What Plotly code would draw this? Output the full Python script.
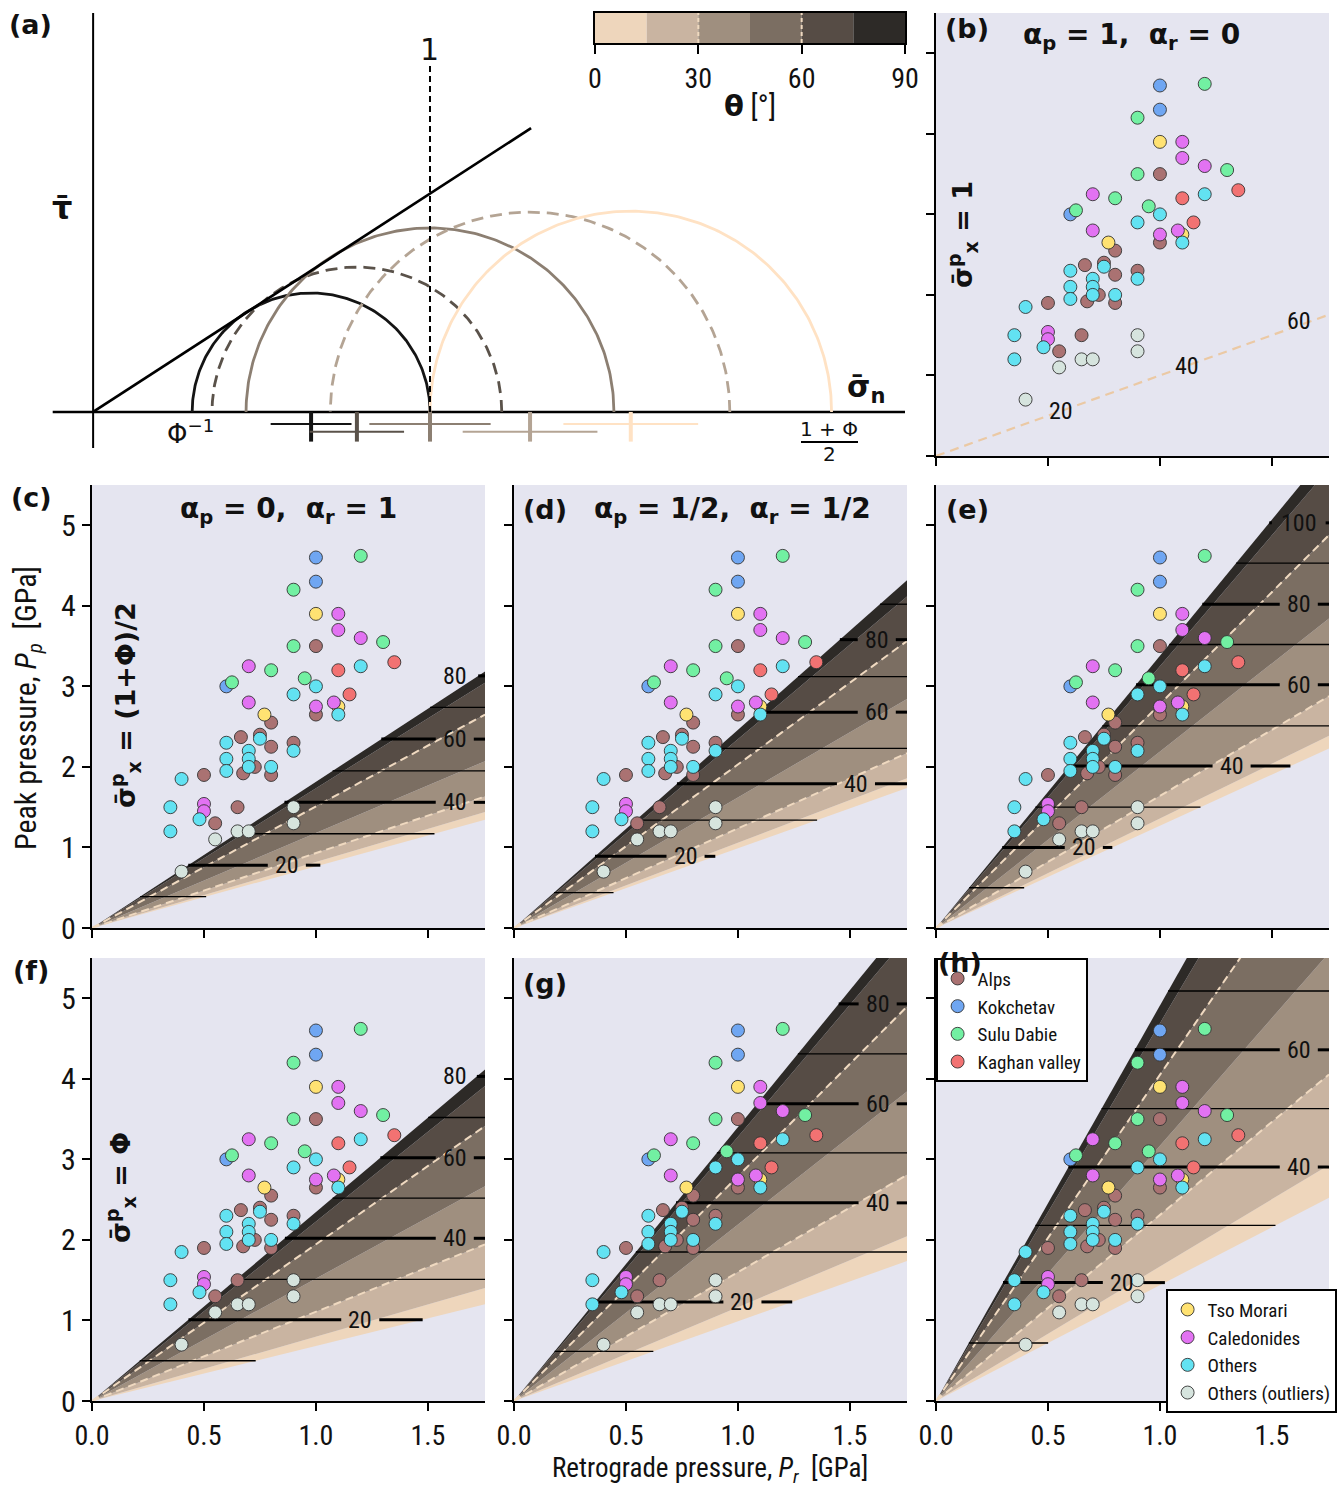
import numpy as np
import plotly.graph_objects as go

W, H = 1341, 1489
FONT = "Liberation Sans Narrow, Roboto Condensed, Roboto, sans-serif"
MATH = "DejaVu Sans, sans-serif"
BG = "#E5E5F0"

# ---------------- data (GPa) ----------------
group_names = ["Alps", "Kokchetav", "Sulu Dabie", "Kaghan valley",
               "Tso Morari", "Caledonides", "Others", "Others (outliers)"]
group_colors = ["#AA7272", "#6FA6F2", "#72F0A2", "#F27272",
                "#FFE272", "#E272F2", "#62E2F2", "#D6E4DE"]

alps_pr = [1.0, 1.0, 0.80, 0.665, 0.75, 0.80, 0.90, 0.727, 0.675, 0.80, 0.50, 0.65, 0.55]
alps_pp = [3.5, 2.65, 2.55, 2.37, 2.4, 2.25, 2.3, 2.0, 1.92, 1.9, 1.9, 1.5, 1.3]
kok_pr = [1.0, 1.0, 0.60]
kok_pp = [4.6, 4.3, 3.0]
sulu_pr = [1.2, 0.9, 1.3, 0.9, 0.8, 0.625, 0.95]
sulu_pp = [4.62, 4.2, 3.55, 3.5, 3.2, 3.05, 3.1]
kaghan_pr = [1.35, 1.1, 1.15]
kaghan_pp = [3.3, 3.2, 2.9]
tso_pr = [1.0, 1.1, 0.77]
tso_pp = [3.9, 2.75, 2.65]
cal_pr = [1.1, 1.1, 1.2, 0.7, 0.7, 1.0, 1.08, 0.5, 0.5]
cal_pp = [3.9, 3.7, 3.6, 3.25, 2.8, 2.75, 2.8, 1.54, 1.45]
oth_pr = [1.2, 1.0, 0.9, 1.1, 0.75, 0.6, 0.9, 0.7, 0.6, 0.7, 0.6, 0.7, 0.8, 0.4, 0.35, 0.48, 0.35]
oth_pp = [3.25, 3.0, 2.9, 2.65, 2.35, 2.3, 2.2, 2.2, 2.1, 2.1, 1.95, 2.0, 2.0, 1.85, 1.5, 1.35, 1.2]
out_pr = [0.65, 0.7, 0.55, 0.9, 0.9, 0.4]
out_pp = [1.2, 1.2, 1.1, 1.5, 1.3, 0.7]

group_pr = [alps_pr, kok_pr, sulu_pr, kaghan_pr, tso_pr, cal_pr, oth_pr, out_pr]
group_pp = [alps_pp, kok_pp, sulu_pp, kaghan_pp, tso_pp, cal_pp, oth_pp, out_pp]

# wedge boundary slopes Pp/Pr at theta = 0,15,30,45,60,75,90 deg
theta_ticks = [0, 30, 60, 90]
slopes_c = [0.765, 0.82, 0.93, 1.18, 1.51, 1.735, 1.815]
slopes_d = [0.99, 1.06, 1.237, 1.62, 2.03, 2.345, 2.46]
slopes_e = [1.27, 1.36, 1.64, 2.19, 2.78, 3.25, 3.38]
slopes_f = [0.684, 0.80, 1.108, 1.52, 1.945, 2.228, 2.345]
slopes_g = [0.99, 1.165, 1.60, 2.19, 2.79, 3.28, 3.40]
slopes_h = [1.438, 1.67, 2.31, 3.17, 4.05, 4.69, 4.91]
slope_b = 1.0

# depth contour levels (Pp, GPa) for 10, 20, 30 ... km
levels_b = [0.28, 0.56, 0.84, 1.12, 1.40, 1.68]
levels_c = [0.39, 0.78, 1.17, 1.56, 1.95, 2.345, 2.74, 3.13]
levels_d = [0.44, 0.89, 1.34, 1.79, 2.23, 2.68, 3.12, 3.58, 4.02]
levels_e = [0.50, 1.00, 1.50, 2.01, 2.51, 3.02, 3.52, 4.02, 4.53, 5.03]
levels_f = [0.50, 1.01, 1.51, 2.02, 2.52, 3.02, 3.52, 4.03]
levels_g = [0.616, 1.23, 1.85, 2.46, 3.08, 3.69, 4.31, 4.93]
levels_h = [0.72, 1.47, 2.18, 2.905, 3.63, 4.36, 5.09]
# label x positions for the labelled (20, 40, ...) levels
lab_b = [0.556, 1.12, 1.62]
lab_c = [0.87, 1.62, 1.62, 1.62]
lab_d = [0.766, 1.527, 1.62, 1.62]
lab_e = [0.66, 1.32, 1.62, 1.62, 1.62]
lab_f = [1.198, 1.62, 1.62, 1.62]
lab_g = [1.02, 1.624, 1.624, 1.624]
lab_h = [0.83, 1.62, 1.62]

# Mohr circles (panel a), normalised stress units
circ_center = [0.647, 0.783, 1.0, 1.297, 1.596]
circ_radius = [0.353, 0.43, 0.546, 0.593, 0.596]
circ_bar = [0.12, 0.14, 0.18, 0.20, 0.20]
circ_colors = ["#141414", "#5A524A", "#8C7F72", "#B4A494", "#FFE2C4"]
circ_dash = ["solid", "12px,7px", "solid", "12px,7px", "solid"]
friction_slope = 0.648
friction_end = 1.30

BAND_COLORS = ["#EED6BC", "#C9B4A1", "#9F8F7F", "#7B6E62", "#564C45", "#2D2A27"]
DASH_COLOR = "#EFD9C0"

XMAX, YMAX = 1.755, 5.5


def px(x):
    return x / W


def py(y):
    return 1 - y / H


def note(x, y, text, size, family=FONT, angle=0):
    return dict(x=px(x), y=py(y), xref="paper", yref="paper", text=text,
                xanchor="center", yanchor="middle", textangle=angle,
                showarrow=False, font=dict(size=size, family=family))


fig = go.Figure()
layout = dict(width=W, height=H, margin=dict(l=0, r=0, t=0, b=0, autoexpand=False),
              paper_bgcolor="white", plot_bgcolor="rgba(0,0,0,0)",
              font=dict(family=FONT, size=24, color="#111"),
              showlegend=True, shapes=[], annotations=[])
ann = layout["annotations"]
shp = layout["shapes"]

# ---------------- panel (a) ----------------
layout["xaxis"] = dict(domain=[px(50), px(905)], range=[-0.128, 2.41], visible=False, fixedrange=True)
layout["yaxis"] = dict(domain=[py(448), py(13)], range=[-0.107, 1.184], visible=False, fixedrange=True)
lk = dict(xaxis="x", yaxis="y", mode="lines", showlegend=False, hoverinfo="skip")
fig.add_trace(go.Scatter(x=[0, 0], y=[-0.107, 1.184], line=dict(color="black", width=2), **lk))
fig.add_trace(go.Scatter(x=[-0.12, 2.41], y=[0, 0], line=dict(color="black", width=2.5), **lk))
t = np.linspace(0, np.pi, 200)
for c, r, col, d in zip(circ_center, circ_radius, circ_colors, circ_dash):
    fig.add_trace(go.Scatter(x=c + r * np.cos(t), y=r * np.sin(t),
                             line=dict(color=col, width=2.8, dash=d), **lk))
fig.add_trace(go.Scatter(x=[0, friction_end], y=[0, friction_slope * friction_end],
                         line=dict(color="black", width=2.7), **lk))
fig.add_trace(go.Scatter(x=[1, 1], y=[0, 1.03], line=dict(color="black", width=2, dash="6px,4px"), **lk))
for i, (c, b, col) in enumerate(zip(circ_center, circ_bar, circ_colors)):
    yb = -0.036 if i % 2 == 0 else -0.059
    fig.add_trace(go.Scatter(x=[c - b, c + b], y=[yb, yb], line=dict(color=col, width=2), **lk))
    fig.add_trace(go.Scatter(x=[c, c], y=[0.0, -0.088], line=dict(color=col, width=4), **lk))

ann.append(note(430, 50, "1", 30, MATH))
ann.append(note(190, 432, "Φ<sup>−1</sup>", 26, MATH))
ann.append(note(829, 429, "1 + Φ", 20, MATH))
ann.append(note(829, 454, "2", 20, MATH))
shp.append(dict(type="line", xref="paper", yref="paper", x0=px(801), x1=px(858),
                y0=py(442), y1=py(442), line=dict(color="black", width=2)))
ann.append(note(866, 388, "<b>σ̄<sub>n</sub></b>", 30, MATH))
ann.append(note(62, 208, "<b>τ̄</b>", 32, MATH))

# ---------------- colorbar ----------------
layout["xaxis2"] = dict(domain=[px(595), px(905)], range=[0, 90], tickvals=theta_ticks,
                        ticks="outside", ticklen=9, tickwidth=2, tickcolor="black",
                        showline=True, linecolor="black", linewidth=2, mirror=True,
                        showgrid=False, zeroline=False, tickfont=dict(size=28), anchor="y2",
                        fixedrange=True)
layout["yaxis2"] = dict(domain=[py(43), py(13)], range=[0, 1], visible=True, showticklabels=False,
                        ticks="", showline=True, linecolor="black", linewidth=2, mirror=True,
                        showgrid=False, zeroline=False, anchor="x2", fixedrange=True)
edges = [0, 15, 30, 45, 60, 75, 90]
for i in range(6):
    fig.add_trace(go.Scatter(x=[edges[i], edges[i + 1], edges[i + 1], edges[i], edges[i]],
                             y=[0, 0, 1, 1, 0], fill="toself", fillcolor=BAND_COLORS[i],
                             line=dict(width=0), mode="lines", xaxis="x2", yaxis="y2",
                             showlegend=False, hoverinfo="skip"))
for v in [30, 60]:
    fig.add_trace(go.Scatter(x=[v, v], y=[0, 1], mode="lines", xaxis="x2", yaxis="y2",
                             line=dict(color=DASH_COLOR, width=2, dash="4px,3px"),
                             showlegend=False, hoverinfo="skip"))
ann.append(note(750, 106, "<b><span style='font-family:DejaVu Sans'>θ</span></b> [°]", 29))

# ---------------- scatter panels ----------------
panels = [
    # label, axis index, left px, top px, x ticklabels, y ticklabels
    ("b", 3, 936, 13, False, False),
    ("c", 4, 92, 485, False, True),
    ("d", 5, 514, 485, False, False),
    ("e", 6, 936, 485, False, False),
    ("f", 7, 92, 958, True, True),
    ("g", 8, 514, 958, True, False),
    ("h", 9, 936, 958, True, False),
]
wedges = {"c": (slopes_c, levels_c, lab_c), "d": (slopes_d, levels_d, lab_d),
          "e": (slopes_e, levels_e, lab_e), "f": (slopes_f, levels_f, lab_f),
          "g": (slopes_g, levels_g, lab_g), "h": (slopes_h, levels_h, lab_h)}
PXW, PXH = 393, 443

for name, k, left, top, xl, yl in panels:
    xa, ya = "x%d" % k, "y%d" % k
    layout["xaxis%d" % k] = dict(domain=[px(left), px(left + PXW)], range=[0, XMAX],
                                 tickvals=[0, 0.5, 1.0, 1.5], tickformat=".1f",
                                 showticklabels=xl, ticks="outside", ticklen=8, tickwidth=1.6,
                                 tickcolor="black", showline=True, linecolor="black", linewidth=2.2,
                                 showgrid=False, zeroline=False, anchor=ya,
                                 tickfont=dict(size=28), fixedrange=True)
    layout["yaxis%d" % k] = dict(domain=[py(top + PXH), py(top)], range=[0, YMAX],
                                 tickvals=[0, 1, 2, 3, 4, 5], showticklabels=yl,
                                 ticks="outside", ticklen=8, tickwidth=1.6, tickcolor="black",
                                 showline=True, linecolor="black", linewidth=2.2,
                                 showgrid=False, zeroline=False, anchor=xa,
                                 tickfont=dict(size=30), fixedrange=True)
    shp.append(dict(type="rect", xref=xa + " domain", yref=ya + " domain", x0=0, x1=1, y0=0, y1=1,
                    fillcolor=BG, line=dict(width=0), layer="below"))
    lk = dict(xaxis=xa, yaxis=ya, showlegend=False, hoverinfo="skip")

    if name == "b":
        fig.add_trace(go.Scatter(x=[0, XMAX], y=[0, slope_b * XMAX], mode="lines",
                                 line=dict(color="#EBC9A4", width=2.2, dash="9px,6px"), **lk))
        for j, lx in enumerate(lab_b):
            lev = levels_b[2 * j + 1]
            ann.append(dict(x=lx, y=lev, xref=xa, yref=ya, text=str(20 * (j + 1)),
                            xanchor="center", yanchor="middle",
                            showarrow=False, font=dict(size=24)))
    else:
        sl, levs, labs = wedges[name]
        for i in range(6):
            fig.add_trace(go.Scatter(x=[0, XMAX, XMAX, 0], y=[0, sl[i] * XMAX, sl[i + 1] * XMAX, 0],
                                     fill="toself", fillcolor=BAND_COLORS[i], mode="lines",
                                     line=dict(width=0), **lk))
        for s in [sl[2], sl[4]]:
            fig.add_trace(go.Scatter(x=[0, XMAX], y=[0, s * XMAX], mode="lines",
                                     line=dict(color=DASH_COLOR, width=2, dash="8px,5px"), **lk))
        for j, lev in enumerate(levs):
            x0 = lev / sl[6]
            x1 = min(lev / sl[0], XMAX)
            if x0 >= XMAX:
                continue
            labelled = (j % 2 == 1)
            if not labelled:
                fig.add_trace(go.Scatter(x=[x0, x1], y=[lev, lev], mode="lines",
                                         line=dict(color="black", width=1.3), **lk))
                continue
            val = 10 * (j + 1)
            lx = labs[j // 2]
            g = 0.12 if val >= 100 else 0.085
            segs = []
            if x0 < lx - g:
                segs.append((x0, min(lx - g, x1)))
            if x1 > lx + g:
                segs.append((max(lx + g, x0), x1))
            for a, b in segs:
                fig.add_trace(go.Scatter(x=[a, b], y=[lev, lev], mode="lines",
                                         line=dict(color="black", width=3), **lk))
            ann.append(dict(x=lx, y=lev, xref=xa, yref=ya, text=str(val),
                            xanchor="center", yanchor="middle",
                            showarrow=False, font=dict(size=24)))

    for gi, (gname, gcol) in enumerate(zip(group_names, group_colors)):
        show = (name == "h")
        fig.add_trace(go.Scatter(x=group_pr[gi], y=group_pp[gi], mode="markers", name=gname,
                                 marker=dict(size=13, color=gcol, line=dict(color="#333333", width=0.9)),
                                 xaxis=xa, yaxis=ya, showlegend=show,
                                 legend=("legend" if gi < 4 else "legend2"),
                                 hoverinfo="skip"))

layout["legend"] = dict(x=px(936), y=py(958), xanchor="left", yanchor="top",
                        bgcolor="white", bordercolor="black", borderwidth=1.6,
                        font=dict(size=19, family=FONT), tracegroupgap=0, itemwidth=30)
layout["legend2"] = dict(x=px(1166), y=py(1289), xanchor="left", yanchor="top",
                         bgcolor="white", bordercolor="black", borderwidth=1.6,
                         font=dict(size=19, family=FONT), tracegroupgap=0, itemwidth=30)

# ---------------- texts ----------------
letters = [("(a)", 30, 25), ("(b)", 967, 28), ("(c)", 31, 497), ("(d)", 545, 509),
           ("(e)", 968, 509), ("(f)", 31, 970), ("(g)", 545, 983), ("(h)", 960, 962)]
for tx, x, y in letters:
    ann.append(note(x, y, "<b>%s</b>" % tx, 27, MATH))

titles = [("α<sub>p</sub> = 1,  α<sub>r</sub> = 0", 1131, 37),
          ("α<sub>p</sub> = 0,  α<sub>r</sub> = 1", 288, 510),
          ("α<sub>p</sub> = 1/2,  α<sub>r</sub> = 1/2", 732, 510)]
for tx, x, y in titles:
    ann.append(note(x, y, "<b>%s</b>" % tx, 28, MATH))

vert = [("σ̄<sup>p</sup><sub>x</sub> = 1", 962, 235),
        ("σ̄<sup>p</sup><sub>x</sub> = (1+Φ)/2", 125, 705),
        ("σ̄<sup>p</sup><sub>x</sub> = Φ", 120, 1188)]
for tx, x, y in vert:
    ann.append(note(x, y, "<b>%s</b>" % tx, 27, MATH, angle=-90))

ann.append(note(28, 708, "Peak pressure, <i>P<sub>p</sub></i>  [GPa]", 30, angle=-90))
ann.append(note(710, 1470, "Retrograde pressure, <i>P<sub>r</sub></i>  [GPa]", 27))

fig.update_layout(**layout)
fig.write_html("out.html", config={"displayModeBar": False},
               post_script="document.body.style.margin='0';")
